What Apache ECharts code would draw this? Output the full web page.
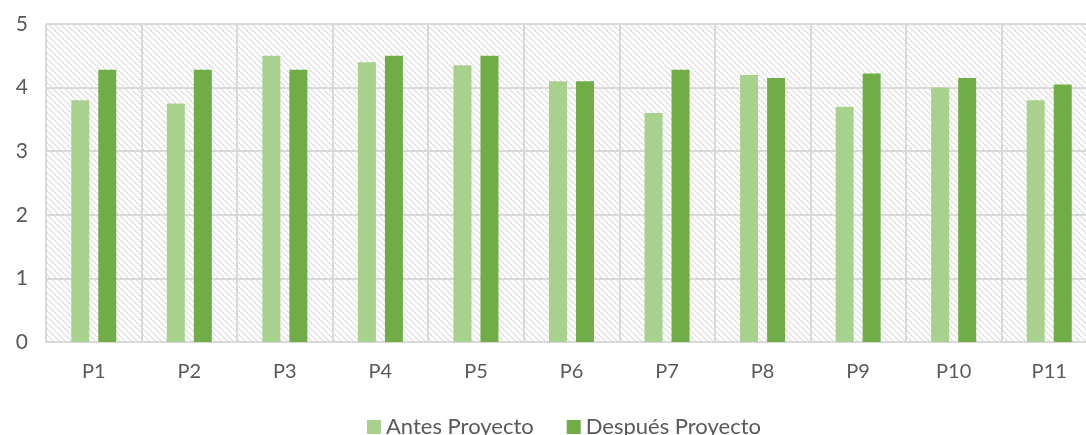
<!DOCTYPE html>
<html>
<head>
<meta charset="utf-8">
<script src="https://cdn.jsdelivr.net/npm/echarts@6/dist/echarts.min.js"></script>
<style>
  html, body { margin: 0; padding: 0; background: #fff; }
  #chart { width: 1086px; height: 435px; }
</style>
</head>
<body>
<div id="chart"></div>
<script>
const categories = ['P1', 'P2', 'P3', 'P4', 'P5', 'P6', 'P7', 'P8', 'P9', 'P10', 'P11']
const antes = [3.8, 3.75, 4.5, 4.4, 4.35, 4.1, 3.6, 4.2, 3.7, 4.0, 3.8]
const despues = [4.28, 4.28, 4.28, 4.5, 4.5, 4.1, 4.28, 4.15, 4.22, 4.15, 4.05]
const seriesNames = ['Antes Proyecto', 'Después Proyecto']

// diagonal hatch for the plot background
function hatch() {
  const c = document.createElement('canvas')
  c.width = 6
  c.height = 6
  const ctx = c.getContext('2d')
  ctx.fillStyle = '#ffffff'
  ctx.fillRect(0, 0, 6, 6)
  for (let i = 0; i < 6; i++) {
    ctx.fillStyle = i % 2 ? '#d2d2d2' : '#e2e2e2'
    ctx.fillRect(i, i, 1, 1)
    ctx.fillStyle = '#eeeeee'
    ctx.fillRect((i + 1) % 6, i, 1, 1)
  }
  return c
}

const font = 'Lato, "Open Sans", sans-serif'
const chart = echarts.init(document.getElementById('chart'))
const option = {
  animation: false,
  textStyle: { fontFamily: font },
  grid: {
    show: true,
    left: 46,
    top: 24,
    width: 1051,
    bottom: 93,
    outerBoundsMode: 'none',
    borderWidth: 0,
    backgroundColor: { image: hatch(), repeat: 'repeat' }
  },
  legend: {
    bottom: -8,
    left: 362,
    itemWidth: 14,
    itemHeight: 14,
    itemGap: 33,
    icon: 'rect',
    textStyle: { fontSize: 22, color: '#595959', fontFamily: font }
  },
  xAxis: {
    type: 'category',
    data: categories,
    axisTick: { show: false },
    axisLine: { lineStyle: { color: '#d9d9d9', width: 2 } },
    splitLine: { show: true, lineStyle: { color: '#d9d9d9', width: 2 } },
    axisLabel: { color: '#595959', fontSize: 20, margin: 20 }
  },
  yAxis: {
    type: 'value',
    min: 0,
    max: 5,
    interval: 1,
    axisLine: { show: false },
    axisTick: { show: false },
    splitLine: { lineStyle: { color: '#d9d9d9', width: 2 } },
    axisLabel: { color: '#595959', fontSize: 21, margin: 18 }
  },
  series: [
    {
      name: seriesNames[0],
      type: 'bar',
      data: antes,
      barWidth: 18,
      barGap: '50%',
      itemStyle: { color: '#a9d18e' }
    },
    {
      name: seriesNames[1],
      type: 'bar',
      data: despues,
      barWidth: 18,
      itemStyle: { color: '#70ad47' }
    }
  ]
}
chart.setOption(option)
</script>
</body>
</html>
